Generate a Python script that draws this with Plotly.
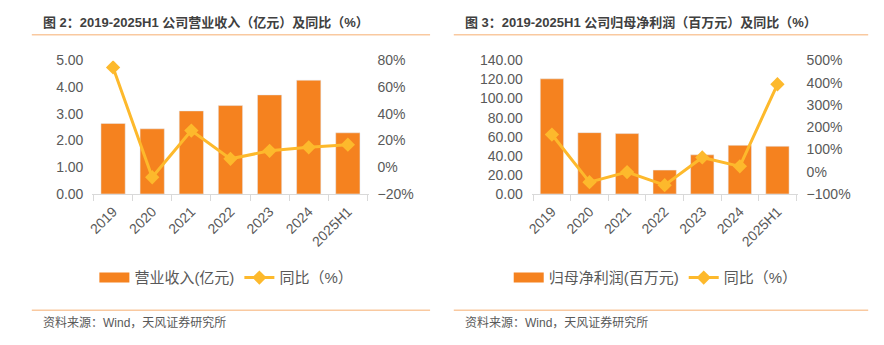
import plotly.graph_objects as go

categories = ["2019", "2020", "2021", "2022", "2023", "2024", "2025H1"]
revenue = [2.64, 2.44, 3.11, 3.31, 3.71, 4.26, 2.29]
revenue_yoy = [74.8, -7.5, 27.5, 6.3, 12.3, 14.9, 16.9]
profit = [120.7, 64.3, 63.3, 25.0, 41.0, 51.0, 50.0]
profit_yoy = [167, -47, -1.5, -60.5, 64, 24, 393]

title_left = "图 2：2019-2025H1 公司营业收入（亿元）及同比（%）"
title_right = "图 3：2019-2025H1 公司归母净利润（百万元）及同比（%）"
source_text = "资料来源：Wind，天风证券研究所"
bar_name_left = "营业收入(亿元)"
bar_name_right = "归母净利润(百万元)"
line_name = "同比（%）"

BAR = "#F5821F"
LINE = "#FDB92C"
GRAY = "#595959"
SEP = "#F9C9A0"
FONT = "Liberation Sans, Arial, Noto Sans CJK SC, sans-serif"

fig = go.Figure()

# ---- left chart ----
fig.add_trace(go.Scatter(x=[None], y=[None], mode="lines", name=bar_name_left,
                         line=dict(color=BAR, width=10), legend="legend",
                         xaxis="x", yaxis="y", hoverinfo="skip"))
fig.add_trace(go.Bar(x=categories, y=revenue, name=bar_name_left, marker_color=BAR,
                     showlegend=False, xaxis="x", yaxis="y"))
fig.add_trace(go.Scatter(x=categories, y=revenue_yoy, name=line_name, mode="lines+markers",
                         line=dict(color=LINE, width=3),
                         marker=dict(symbol="diamond", size=11, color=LINE),
                         legend="legend", xaxis="x", yaxis="y2"))

# ---- right chart ----
fig.add_trace(go.Scatter(x=[None], y=[None], mode="lines", name=bar_name_right,
                         line=dict(color=BAR, width=10), legend="legend2",
                         xaxis="x2", yaxis="y3", hoverinfo="skip"))
fig.add_trace(go.Bar(x=categories, y=profit, name=bar_name_right, marker_color=BAR,
                     showlegend=False, xaxis="x2", yaxis="y3"))
fig.add_trace(go.Scatter(x=categories, y=profit_yoy, name=line_name, mode="lines+markers",
                         line=dict(color=LINE, width=3),
                         marker=dict(symbol="diamond", size=11, color=LINE),
                         legend="legend2", xaxis="x2", yaxis="y4"))

ydom = [0.4348, 0.8406]
xcommon = dict(type="category", categoryorder="array", categoryarray=categories,
               showgrid=False, showline=True, linecolor="#D9D9D9", linewidth=1,
               ticks="outside", tickson="boundaries", ticklen=6, tickcolor="#D9D9D9",
               tickangle=-45, tickfont=dict(size=14, color=GRAY, family=FONT),
               ticklabelstandoff=3, fixedrange=True)
ycommon = dict(showgrid=False, zeroline=False, showline=False, ticks="",
               tickfont=dict(size=14, color=GRAY, family=FONT), ticklabelstandoff=8)

fig.update_layout(
    width=884, height=345,
    margin=dict(l=0, r=0, t=0, b=0),
    paper_bgcolor="white", plot_bgcolor="white",
    font=dict(family=FONT, color=GRAY),
    bargap=0.38,
    xaxis=dict(domain=[0.0984, 0.4129], anchor="y", **xcommon),
    yaxis=dict(domain=ydom, anchor="x", range=[0, 5], dtick=1, tickformat=".2f", **ycommon),
    yaxis2=dict(overlaying="y", side="right", anchor="x", range=[-20, 80], dtick=20,
                ticksuffix="%", **ycommon),
    xaxis2=dict(domain=[0.5988, 0.9016], anchor="y3", **xcommon),
    yaxis3=dict(domain=ydom, anchor="x2", range=[0, 140], dtick=20, tickformat=".2f", **ycommon),
    yaxis4=dict(overlaying="y3", side="right", anchor="x2", range=[-100, 500], dtick=100,
                ticksuffix="%", **ycommon),
    legend=dict(orientation="h", x=0.251, y=0.18, xanchor="center", yanchor="middle",
                font=dict(size=15, color=GRAY, family=FONT), bgcolor="rgba(0,0,0,0)",
                itemclick=False, itemdoubleclick=False, tracegroupgap=0),
    legend2=dict(orientation="h", x=0.74, y=0.18, xanchor="center", yanchor="middle",
                 font=dict(size=15, color=GRAY, family=FONT), bgcolor="rgba(0,0,0,0)",
                 itemclick=False, itemdoubleclick=False, tracegroupgap=0),
    showlegend=True,
)

shapes = []
for x0, x1 in [(0.0294, 0.483), (0.510, 0.982)]:
    for yy in [0.9188, 0.0812]:
        shapes.append(dict(type="line", xref="paper", yref="paper", x0=x0, x1=x1,
                           y0=yy, y1=yy, line=dict(color=SEP, width=1.5)))
fig.update_layout(shapes=shapes)

anns = []
for xx, t in [(0.0396, title_left), (0.520, title_right)]:
    anns.append(dict(xref="paper", yref="paper", x=xx, y=0.9565, xanchor="left",
                     yanchor="middle", showarrow=False, text="<b>" + t + "</b>",
                     font=dict(size=13, color="#404040", family=FONT)))
for xx in [0.0396, 0.520]:
    anns.append(dict(xref="paper", yref="paper", x=xx, y=1 - 330 / 345, xanchor="left",
                     yanchor="middle", showarrow=False, text=source_text,
                     font=dict(size=12, color=GRAY, family=FONT)))
fig.update_layout(annotations=anns)

fig.write_html("out.html")
